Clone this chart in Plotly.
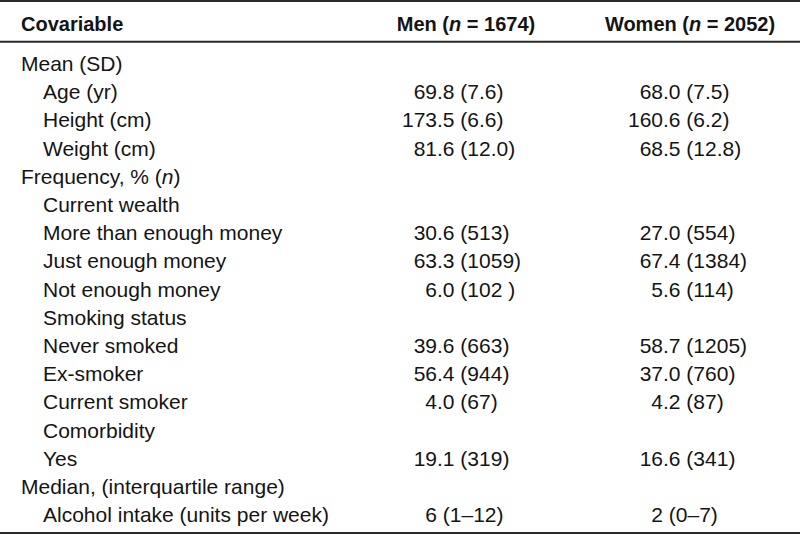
import plotly.graph_objects as go

# ---- data ----
header = ["Covariable", "Men (<i>n</i> = 1674)", "Women (<i>n</i> = 2052)"]
labels = ["Mean (SD)", "Age (yr)", "Height (cm)", "Weight (cm)",
          "Frequency, % (<i>n</i>)", "Current wealth", "More than enough money",
          "Just enough money", "Not enough money", "Smoking status",
          "Never smoked", "Ex-smoker", "Current smoker", "Comorbidity", "Yes",
          "Median, (interquartile range)", "Alcohol intake (units per week)"]
levels = [0, 1, 1, 1, 0, 1, 1, 1, 1, 1, 1, 1, 1, 1, 1, 0, 1]
men = ["", "69.8 (7.6)", "173.5 (6.6)", "81.6 (12.0)", "", "", "30.6 (513)",
       "63.3 (1059)", "6.0 (102 )", "", "39.6 (663)", "56.4 (944)", "4.0 (67)",
       "", "19.1 (319)", "", "6 (1–12)"]
women = ["", "68.0 (7.5)", "160.6 (6.2)", "68.5 (12.8)", "", "", "27.0 (554)",
         "67.4 (1384)", "5.6 (114)", "", "58.7 (1205)", "37.0 (760)", "4.2 (87)",
         "", "16.6 (341)", "", "2 (0–7)"]

# ---- layout constants ----
W, H = 800, 535
ROW = 28.2            # px per row
ROW0 = 65.75          # px centre of first body row
FONT = "Liberation Sans, Arial, sans-serif"
FS = 21
HFS = 20
COLOR = "#141414"
X_LABEL = 21
INDENT = 22
X_MEN_DEC = 437
X_WOM_DEC = 663
X_MEN_HEAD = 466
X_WOM_HEAD = 690
HEAD_PX = 25.75

def split_val(s):
    if not s:
        return "", ""
    cut = len(s)
    for ch in (".", " "):
        i = s.find(ch)
        if i != -1:
            cut = min(cut, i)
    rest = s[cut:]
    if rest.startswith(" "):
        rest = "\u00a0" + rest[1:]
    return s[:cut], rest

rows = list(range(len(labels)))
fig = go.Figure()

tf = dict(family=FONT, size=FS, color=COLOR)

# labels
for lv in (0, 1):
    idx = [i for i in rows if levels[i] == lv]
    fig.add_trace(go.Scatter(
        x=[X_LABEL + INDENT * lv] * len(idx), y=idx,
        text=[labels[i] for i in idx], mode="text",
        textposition="middle right", textfont=tf, hoverinfo="skip"))

# values, aligned on decimal point
for vals, xd in ((men, X_MEN_DEC), (women, X_WOM_DEC)):
    parts = [split_val(v) for v in vals]
    fig.add_trace(go.Scatter(
        x=[xd] * len(rows), y=rows, text=[p[0] for p in parts], mode="text",
        textposition="middle left", textfont=tf, hoverinfo="skip"))
    fig.add_trace(go.Scatter(
        x=[xd] * len(rows), y=rows, text=[p[1] for p in parts], mode="text",
        textposition="middle right", textfont=tf, hoverinfo="skip"))

# header
yh = (HEAD_PX - ROW0) / ROW
hf = dict(family=FONT, size=HFS, color=COLOR)
fig.add_trace(go.Scatter(
    x=[X_LABEL], y=[yh], text=["<b>" + header[0] + "</b>"], mode="text",
    textposition="middle right", textfont=hf, hoverinfo="skip"))
fig.add_trace(go.Scatter(
    x=[X_MEN_HEAD, X_WOM_HEAD], y=[yh, yh],
    text=["<b>" + h + "</b>" for h in header[1:]], mode="text",
    textposition="middle center", textfont=hf, hoverinfo="skip"))

ymin = -ROW0 / ROW
ymax = ymin + H / ROW

def pline(px):
    return dict(type="line", xref="paper", yref="paper", x0=0, x1=1,
                y0=1 - px / H, y1=1 - px / H,
                line=dict(color="#2a2a2a", width=2))

fig.update_layout(
    width=W, height=H, margin=dict(l=0, r=0, t=0, b=0),
    paper_bgcolor="white", plot_bgcolor="white", showlegend=False,
    xaxis=dict(range=[0, W], visible=False, fixedrange=True),
    yaxis=dict(range=[ymax, ymin], visible=False, fixedrange=True),
    shapes=[pline(1), pline(41.7), pline(533)],
)

fig.write_html("out.html", config={"displayModeBar": False},
               post_script="document.body.style.margin='0';"
                           "document.body.style.padding='0';"
                           "document.body.style.overflow='hidden';")
